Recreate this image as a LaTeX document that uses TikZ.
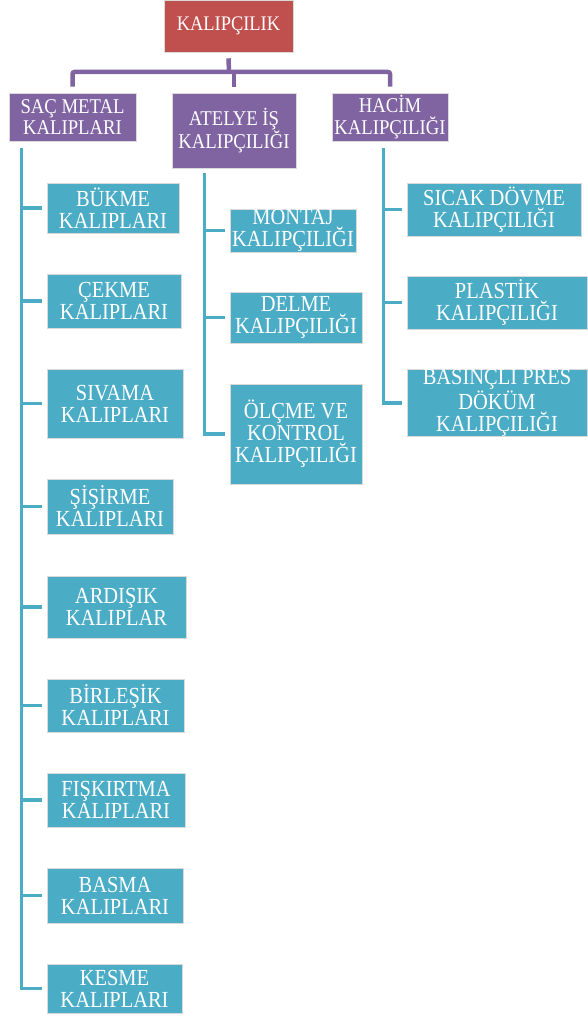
\documentclass[tikz,border=0pt]{standalone}
\usepackage{fontspec}
\setmainfont[FakeStretch=0.89]{Liberation Serif}
\usetikzlibrary{calc}
\definecolor{kred}{HTML}{C0504D}
\definecolor{kpurple}{HTML}{8064A2}
\definecolor{kblue}{HTML}{4BACC6}
\begin{document}
\begin{tikzpicture}[x=1pt,y=-1pt,
  box/.style={draw=white!85!black, line width=0.6pt, inner sep=0pt, text=white, align=center},
  topbox/.style={box, fill=kred, font=\fontsize{20.7}{22}\selectfont},
  midbox/.style={box, fill=kpurple, font=\fontsize{21}{21.7}\selectfont},
  leafbox/.style={box, fill=kblue, font=\fontsize{23}{22}\selectfont},
  pline/.style={draw=kpurple, line width=4.5pt, rounded corners=2pt},
  bline/.style={draw=kblue, line width=3.5pt}]
\useasboundingbox (0,0) rectangle (587,1016);

% root and level 2
\node[topbox, minimum width=129pt, minimum height=52pt] (root) at (228.5,26) {KALIPÇILIK};
\node[midbox, minimum width=127pt, minimum height=48pt] (sac) at (72.5,117) {SAÇ METAL\\KALIPLARI};
\node[midbox, minimum width=124pt, minimum height=75pt] (atelye) at (234,130.5) {ATELYE İŞ\\KALIPÇILIĞI};
\node[midbox, minimum width=116pt, minimum height=48pt] (hacim) at (390,117) {HACİM\\KALIPÇILIĞI};

% left leaves
\node[leafbox, minimum width=132pt, minimum height=50pt] (bukme) at (113,208) {BÜKME\\KALIPLARI};
\node[leafbox, minimum width=134pt, minimum height=54pt] (cekme) at (114,301) {ÇEKME\\KALIPLARI};
\node[leafbox, minimum width=136pt, minimum height=69pt] (sivama) at (115,403.5) {SIVAMA\\KALIPLARI};
\node[leafbox, minimum width=126pt, minimum height=55pt] (sisirme) at (110,506.5) {ŞİŞİRME\\KALIPLARI};
\node[leafbox, minimum width=139pt, minimum height=62pt] (ardisik) at (116.5,607) {ARDIŞIK\\KALIPLAR};
\node[leafbox, minimum width=137pt, minimum height=53pt] (birlesik) at (115.5,705.5) {BİRLEŞİK\\KALIPLARI};
\node[leafbox, minimum width=138pt, minimum height=54pt] (fiskirtma) at (116,800) {FIŞKIRTMA\\KALIPLARI};
\node[leafbox, minimum width=136pt, minimum height=55pt] (basma) at (115,895.5) {BASMA\\KALIPLARI};
\node[leafbox, minimum width=135pt, minimum height=49pt] (kesme) at (114.5,988.5) {KESME\\KALIPLARI};

% middle leaves
\node[leafbox, minimum width=126pt, minimum height=43pt] (montaj) at (293,230.5) {MONTAJ\\KALIPÇILIĞI};
\node[leafbox, minimum width=132pt, minimum height=51pt] (delme) at (296,317.5) {DELME\\KALIPÇILIĞI};
\node[leafbox, minimum width=132pt, minimum height=100pt] (olcme) at (296,434) {ÖLÇME VE\\KONTROL\\KALIPÇILIĞI};

% right leaves
\node[leafbox, minimum width=174pt, minimum height=53pt] (sicak) at (494,209.5) {SICAK DÖVME\\KALIPÇILIĞI};
\node[leafbox, minimum width=180pt, minimum height=53pt] (plastik) at (497,302.5) {PLASTİK\\KALIPÇILIĞI};
\node[leafbox, minimum width=180pt, minimum height=66pt] (basincli) at (497,403) {BASINÇLI PRES\\DÖKÜM\\KALIPÇILIĞI};

% purple connectors
\coordinate (bus) at (229,72);
\draw[pline] ([yshift=-6pt]root.south) -- (bus);
\draw[pline] ([yshift=6pt]sac.north) |- (bus) -| ([yshift=6pt]hacim.north);
\draw[pline] ([yshift=6pt]atelye.north) -- (atelye.north |- bus);

% blue spines
\coordinate (sacS) at ($(sac.south west)+(13,7)$);
\coordinate (atS) at ($(atelye.south west)+(33,5)$);
\coordinate (haS) at ($(hacim.south west)+(52,7)$);

\draw[bline] (sacS) |- ([xshift=-5pt]kesme.west);
\foreach \n in {bukme,cekme,sivama,sisirme,ardisik,birlesik,fiskirtma,basma}
  \draw[bline] (sacS |- \n.west) -- ([xshift=-5pt]\n.west);

\draw[bline] (atS) |- ([xshift=-5pt]olcme.west);
\foreach \n in {montaj,delme}
  \draw[bline] (atS |- \n.west) -- ([xshift=-5pt]\n.west);

\draw[bline] (haS) |- ([xshift=-5pt]basincli.west);
\foreach \n in {sicak,plastik}
  \draw[bline] (haS |- \n.west) -- ([xshift=-5pt]\n.west);
\end{tikzpicture}
\end{document}
